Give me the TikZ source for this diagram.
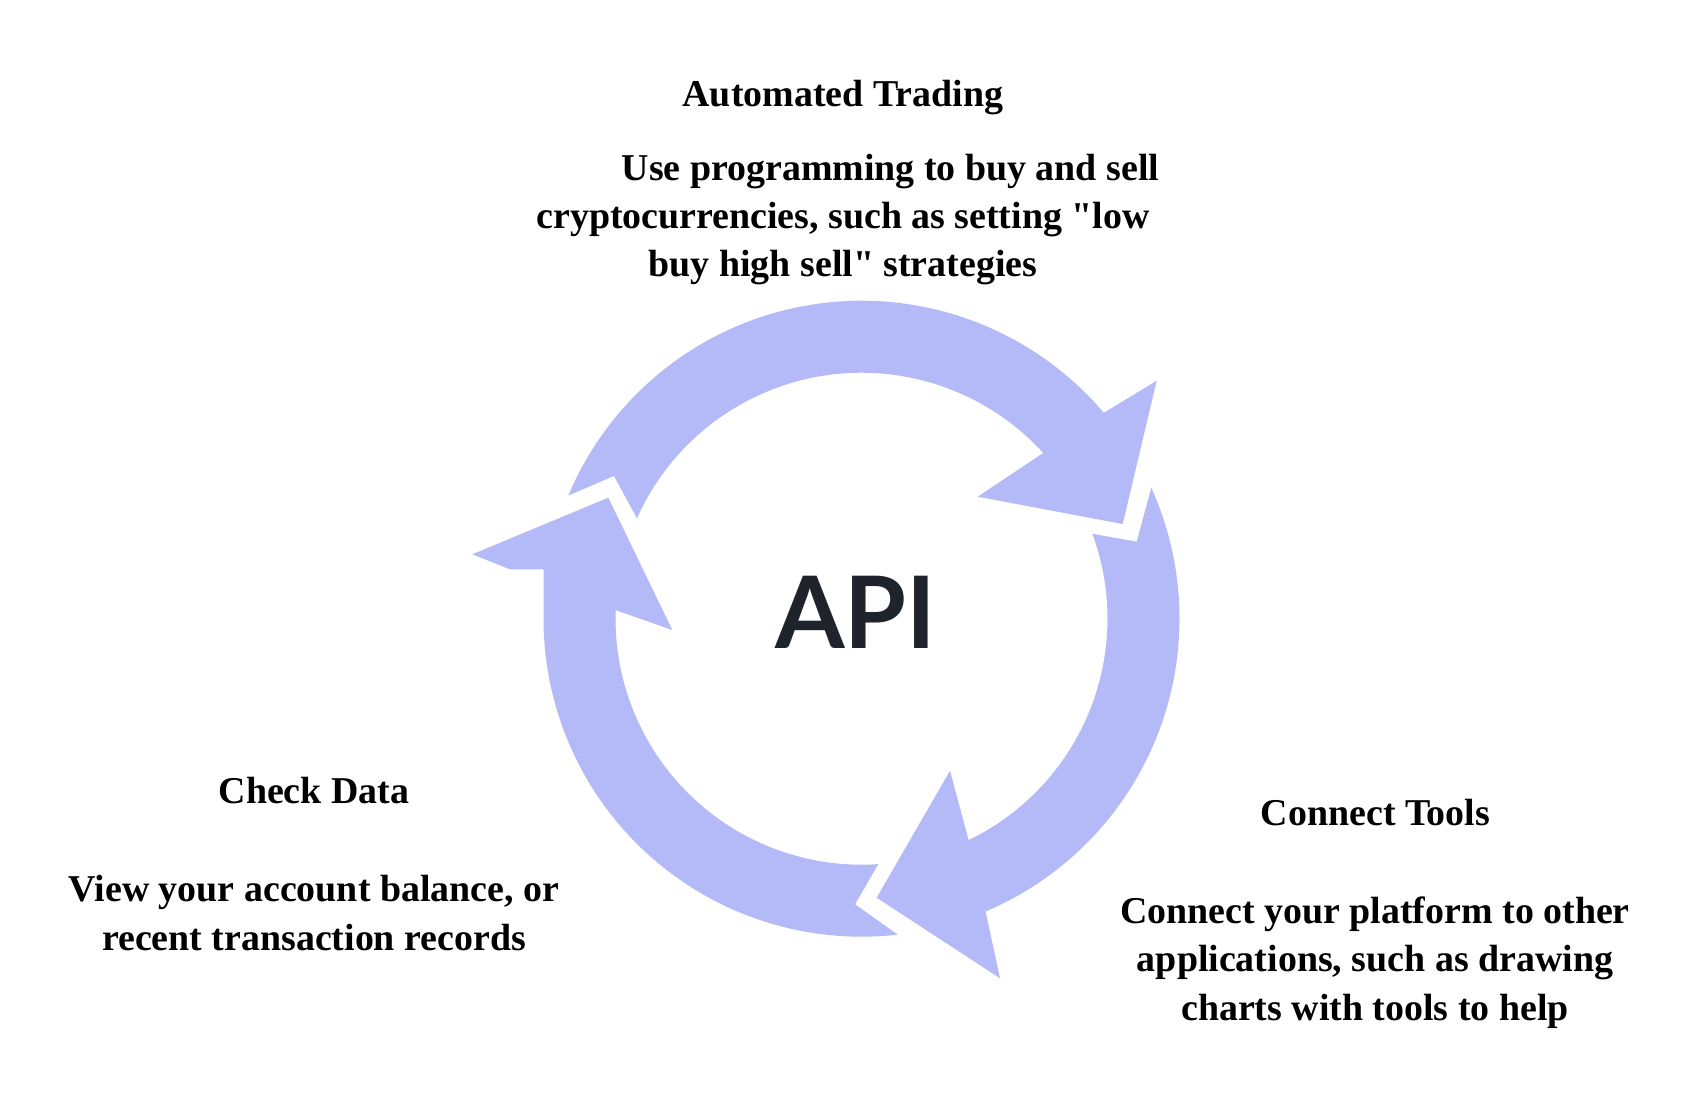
\documentclass[tikz,border=0pt]{standalone}
\usepackage{fontspec}
\setmainfont{Liberation Serif}[Ligatures=TeXOff]
\newfontfamily\apifont{Lato}
\definecolor{ringblue}{RGB}{180,186,247}
\definecolor{apidark}{RGB}{31,35,43}
\tikzset{
  ringfill/.style={fill=ringblue},
  txt/.style={font=\bfseries\fontsize{10.78pt}{13.66pt}\selectfont, align=center, anchor=base, inner sep=0pt, text=black},
  apitext/.style={font=\apifont\bfseries\fontsize{28.45pt}{30pt}\selectfont, anchor=base, inner sep=0pt, text=apidark},
}
\begin{document}
\begin{tikzpicture}[x=0.01cm,y=-0.01cm]
\useasboundingbox[fill=white] (0,0) rectangle (1694,1094);
% top arrow
\fill[ringfill] plot[domain=202.8:319.65, samples=80, variable=\t] ({861.5+318*cos(\t)},{618.7+318*sin(\t)})
  -- (1156.7,380.7) -- (1122.7,524) -- (977.7,496.7)
  -- plot[domain=317.63:204.1, samples=80, variable=\t] ({861.5+246*cos(\t)},{618.7+246*sin(\t)})
  -- (614,476) -- cycle;
% right arrow
\fill[ringfill] plot[domain=-24.32:67.03, samples=80, variable=\t] ({861.5+318*cos(\t)},{618.7+318*sin(\t)})
  -- (1000,978.3) -- (876.7,897.7) -- (950,770.7)
  -- plot[domain=64.19:-20.2, samples=80, variable=\t] ({861.5+246*cos(\t)},{618.7+246*sin(\t)})
  -- (1136.7,541.7) -- cycle;
% bottom-left arrow
\fill[ringfill] plot[domain=83.45:180, samples=80, variable=\t] ({861.5+318*cos(\t)},{618.7+318*sin(\t)})
  -- (543.5,569.3) -- (510,569.3) -- (472.3,554.3) -- (608.3,497.7) -- (672.3,630)
  -- plot[domain=182:86.08, samples=80, variable=\t] ({861.5+246*cos(\t)},{618.7+246*sin(\t)})
  -- (855,904.3) -- cycle;
% texts
\node[apitext] (api) at (855.8,648.3) {API};
\node[txt] (autoH) at (842.8,106.7) {Automated Trading};
\node[txt] (autoB) at (843,277) {\hspace*{27pt}Use programming to buy and sell\\cryptocurrencies, such as setting "low\\buy high sell" strategies};
\node[txt] (checkH) at (314,803.3) {Check Data};
\node[txt] (checkB) at (314,950) {View your account balance, or\\recent transaction records};
\node[txt] (toolsH) at (1375.5,825.7) {Connect Tools};
\node[txt] (toolsB) at (1375,1020) {Connect your platform to other\\applications, such as drawing\\charts with tools to help};
\end{tikzpicture}
\end{document}
